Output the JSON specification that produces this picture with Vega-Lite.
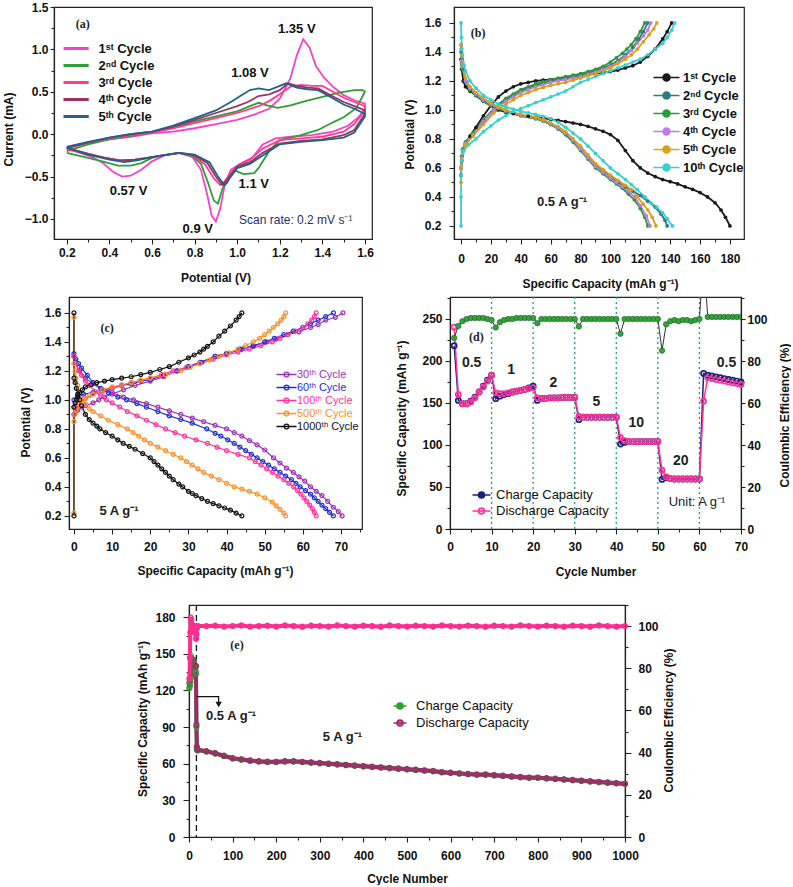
{
"$schema": "https://vega.github.io/schema/vega-lite/v6.json",
"background": "white",
"padding": {"left": 0, "top": 0, "right": 0, "bottom": 0},
"spacing": 4,
"resolve": {"scale": {"color": "independent"}, "legend": {"color": "independent"}},
"config": {
 "font": "Liberation Sans",
 "view": {"stroke": "#222222", "strokeWidth": 1.2},
 "axis": {"grid": false, "domainColor": "#222222", "domainWidth": 1.2, "tickColor": "#222222", "tickWidth": 1.1, "labelFontSize": 12, "labelFontWeight": "bold", "labelColor": "#111111", "titleFontSize": 12, "titleFontWeight": "bold", "titleColor": "#111111", "labelFlush": false, "labelOverlap": false},
 "legend": {"labelColor": "#111111", "labelFont": "Liberation Sans"}
},
"datasets": {
 "cv": [
{"k":"1","p":0.2,"c":-0.15},{"k":"1","p":0.3,"c":-0.1},{"k":"1","p":0.4,"c":-0.06},{"k":"1","p":0.5,"c":-0.03},{"k":"1","p":0.6,"c":0.01},{"k":"1","p":0.7,"c":0.03},{"k":"1","p":0.8,"c":0.07},{"k":"1","p":0.9,"c":0.12},{"k":"1","p":1.0,"c":0.17},{"k":"1","p":1.08,"c":0.23},{"k":"1","p":1.15,"c":0.3},{"k":"1","p":1.2,"c":0.42},{"k":"1","p":1.25,"c":0.66},{"k":"1","p":1.28,"c":0.93},{"k":"1","p":1.31,"c":1.12},{"k":"1","p":1.34,"c":1.02},{"k":"1","p":1.37,"c":0.8},{"k":"1","p":1.41,"c":0.66},{"k":"1","p":1.45,"c":0.56},{"k":"1","p":1.5,"c":0.46},{"k":"1","p":1.55,"c":0.4},{"k":"1","p":1.6,"c":0.36},{"k":"1","p":1.6,"c":0.3},{"k":"1","p":1.57,"c":0.2},{"k":"1","p":1.52,"c":0.1},{"k":"1","p":1.45,"c":0.03},{"k":"1","p":1.35,"c":-0.01},{"k":"1","p":1.25,"c":-0.03},{"k":"1","p":1.18,"c":-0.05},{"k":"1","p":1.12,"c":-0.12},{"k":"1","p":1.07,"c":-0.28},{"k":"1","p":1.02,"c":-0.34},{"k":"1","p":0.97,"c":-0.42},{"k":"1","p":0.94,"c":-0.62},{"k":"1","p":0.92,"c":-0.88},{"k":"1","p":0.9,"c":-1.03},{"k":"1","p":0.88,"c":-0.96},{"k":"1","p":0.86,"c":-0.72},{"k":"1","p":0.83,"c":-0.42},{"k":"1","p":0.79,"c":-0.27},{"k":"1","p":0.73,"c":-0.22},{"k":"1","p":0.66,"c":-0.25},{"k":"1","p":0.6,"c":-0.32},{"k":"1","p":0.55,"c":-0.42},{"k":"1","p":0.5,"c":-0.49},{"k":"1","p":0.46,"c":-0.5},{"k":"1","p":0.42,"c":-0.45},{"k":"1","p":0.37,"c":-0.34},{"k":"1","p":0.32,"c":-0.27},{"k":"1","p":0.25,"c":-0.21},{"k":"1","p":0.2,"c":-0.16},
{"k":"2","p":0.2,"c":-0.2},{"k":"2","p":0.3,"c":-0.12},{"k":"2","p":0.4,"c":-0.06},{"k":"2","p":0.5,"c":-0.02},{"k":"2","p":0.6,"c":0.02},{"k":"2","p":0.7,"c":0.08},{"k":"2","p":0.8,"c":0.15},{"k":"2","p":0.9,"c":0.21},{"k":"2","p":1.0,"c":0.27},{"k":"2","p":1.06,"c":0.33},{"k":"2","p":1.1,"c":0.37},{"k":"2","p":1.14,"c":0.34},{"k":"2","p":1.19,"c":0.31},{"k":"2","p":1.25,"c":0.34},{"k":"2","p":1.32,"c":0.39},{"k":"2","p":1.4,"c":0.44},{"k":"2","p":1.48,"c":0.49},{"k":"2","p":1.55,"c":0.52},{"k":"2","p":1.59,"c":0.52},{"k":"2","p":1.6,"c":0.5},{"k":"2","p":1.56,"c":0.31},{"k":"2","p":1.5,"c":0.2},{"k":"2","p":1.45,"c":0.14},{"k":"2","p":1.38,"c":0.05},{"k":"2","p":1.3,"c":-0.01},{"k":"2","p":1.2,"c":-0.07},{"k":"2","p":1.15,"c":-0.2},{"k":"2","p":1.1,"c":-0.4},{"k":"2","p":1.08,"c":-0.46},{"k":"2","p":1.03,"c":-0.47},{"k":"2","p":0.99,"c":-0.43},{"k":"2","p":0.96,"c":-0.5},{"k":"2","p":0.93,"c":-0.65},{"k":"2","p":0.91,"c":-0.82},{"k":"2","p":0.89,"c":-0.78},{"k":"2","p":0.86,"c":-0.55},{"k":"2","p":0.83,"c":-0.35},{"k":"2","p":0.79,"c":-0.26},{"k":"2","p":0.72,"c":-0.22},{"k":"2","p":0.65,"c":-0.25},{"k":"2","p":0.6,"c":-0.28},{"k":"2","p":0.55,"c":-0.34},{"k":"2","p":0.5,"c":-0.37},{"k":"2","p":0.44,"c":-0.37},{"k":"2","p":0.38,"c":-0.33},{"k":"2","p":0.3,"c":-0.28},{"k":"2","p":0.2,"c":-0.22},
{"k":"3","p":0.2,"c":-0.17},{"k":"3","p":0.3,"c":-0.1},{"k":"3","p":0.4,"c":-0.05},{"k":"3","p":0.5,"c":-0.01},{"k":"3","p":0.6,"c":0.02},{"k":"3","p":0.7,"c":0.07},{"k":"3","p":0.8,"c":0.13},{"k":"3","p":0.9,"c":0.19},{"k":"3","p":1.0,"c":0.25},{"k":"3","p":1.1,"c":0.33},{"k":"3","p":1.15,"c":0.39},{"k":"3","p":1.2,"c":0.47},{"k":"3","p":1.25,"c":0.56},{"k":"3","p":1.3,"c":0.58},{"k":"3","p":1.35,"c":0.57},{"k":"3","p":1.4,"c":0.57},{"k":"3","p":1.45,"c":0.5},{"k":"3","p":1.5,"c":0.43},{"k":"3","p":1.55,"c":0.38},{"k":"3","p":1.6,"c":0.33},{"k":"3","p":1.6,"c":0.28},{"k":"3","p":1.55,"c":0.12},{"k":"3","p":1.5,"c":0.03},{"k":"3","p":1.4,"c":-0.03},{"k":"3","p":1.3,"c":-0.05},{"k":"3","p":1.2,"c":-0.07},{"k":"3","p":1.12,"c":-0.17},{"k":"3","p":1.06,"c":-0.3},{"k":"3","p":1.01,"c":-0.36},{"k":"3","p":0.97,"c":-0.45},{"k":"3","p":0.94,"c":-0.56},{"k":"3","p":0.92,"c":-0.6},{"k":"3","p":0.89,"c":-0.52},{"k":"3","p":0.85,"c":-0.36},{"k":"3","p":0.8,"c":-0.26},{"k":"3","p":0.73,"c":-0.22},{"k":"3","p":0.65,"c":-0.25},{"k":"3","p":0.6,"c":-0.27},{"k":"3","p":0.52,"c":-0.3},{"k":"3","p":0.45,"c":-0.31},{"k":"3","p":0.38,"c":-0.28},{"k":"3","p":0.3,"c":-0.24},{"k":"3","p":0.2,"c":-0.18},
{"k":"4","p":0.2,"c":-0.16},{"k":"4","p":0.3,"c":-0.1},{"k":"4","p":0.4,"c":-0.04},{"k":"4","p":0.5,"c":0.0},{"k":"4","p":0.6,"c":0.03},{"k":"4","p":0.7,"c":0.09},{"k":"4","p":0.8,"c":0.17},{"k":"4","p":0.9,"c":0.25},{"k":"4","p":1.0,"c":0.33},{"k":"4","p":1.05,"c":0.38},{"k":"4","p":1.1,"c":0.45},{"k":"4","p":1.15,"c":0.47},{"k":"4","p":1.2,"c":0.52},{"k":"4","p":1.24,"c":0.6},{"k":"4","p":1.28,"c":0.57},{"k":"4","p":1.33,"c":0.55},{"k":"4","p":1.38,"c":0.54},{"k":"4","p":1.43,"c":0.47},{"k":"4","p":1.5,"c":0.38},{"k":"4","p":1.55,"c":0.33},{"k":"4","p":1.6,"c":0.28},{"k":"4","p":1.6,"c":0.24},{"k":"4","p":1.55,"c":0.05},{"k":"4","p":1.5,"c":-0.01},{"k":"4","p":1.4,"c":-0.06},{"k":"4","p":1.3,"c":-0.08},{"k":"4","p":1.2,"c":-0.11},{"k":"4","p":1.12,"c":-0.22},{"k":"4","p":1.06,"c":-0.33},{"k":"4","p":1.0,"c":-0.38},{"k":"4","p":0.97,"c":-0.48},{"k":"4","p":0.94,"c":-0.58},{"k":"4","p":0.93,"c":-0.6},{"k":"4","p":0.9,"c":-0.5},{"k":"4","p":0.86,"c":-0.34},{"k":"4","p":0.8,"c":-0.25},{"k":"4","p":0.73,"c":-0.22},{"k":"4","p":0.65,"c":-0.25},{"k":"4","p":0.6,"c":-0.27},{"k":"4","p":0.52,"c":-0.3},{"k":"4","p":0.45,"c":-0.31},{"k":"4","p":0.38,"c":-0.28},{"k":"4","p":0.3,"c":-0.23},{"k":"4","p":0.2,"c":-0.16},
{"k":"5","p":0.2,"c":-0.15},{"k":"5","p":0.3,"c":-0.09},{"k":"5","p":0.4,"c":-0.04},{"k":"5","p":0.5,"c":0.0},{"k":"5","p":0.6,"c":0.03},{"k":"5","p":0.7,"c":0.1},{"k":"5","p":0.8,"c":0.19},{"k":"5","p":0.9,"c":0.28},{"k":"5","p":0.97,"c":0.38},{"k":"5","p":1.02,"c":0.46},{"k":"5","p":1.06,"c":0.52},{"k":"5","p":1.1,"c":0.54},{"k":"5","p":1.15,"c":0.52},{"k":"5","p":1.2,"c":0.57},{"k":"5","p":1.23,"c":0.6},{"k":"5","p":1.28,"c":0.55},{"k":"5","p":1.33,"c":0.53},{"k":"5","p":1.38,"c":0.52},{"k":"5","p":1.43,"c":0.45},{"k":"5","p":1.5,"c":0.35},{"k":"5","p":1.55,"c":0.3},{"k":"5","p":1.6,"c":0.24},{"k":"5","p":1.6,"c":0.21},{"k":"5","p":1.55,"c":0.02},{"k":"5","p":1.5,"c":-0.04},{"k":"5","p":1.4,"c":-0.07},{"k":"5","p":1.3,"c":-0.09},{"k":"5","p":1.2,"c":-0.12},{"k":"5","p":1.12,"c":-0.25},{"k":"5","p":1.06,"c":-0.35},{"k":"5","p":1.0,"c":-0.4},{"k":"5","p":0.97,"c":-0.5},{"k":"5","p":0.95,"c":-0.58},{"k":"5","p":0.94,"c":-0.6},{"k":"5","p":0.91,"c":-0.5},{"k":"5","p":0.87,"c":-0.33},{"k":"5","p":0.8,"c":-0.24},{"k":"5","p":0.73,"c":-0.22},{"k":"5","p":0.65,"c":-0.25},{"k":"5","p":0.6,"c":-0.27},{"k":"5","p":0.53,"c":-0.31},{"k":"5","p":0.47,"c":-0.33},{"k":"5","p":0.4,"c":-0.3},{"k":"5","p":0.3,"c":-0.24},{"k":"5","p":0.2,"c":-0.16}
 ],
 "gcd": [
{"k":"1","s":"d","q":0,"v":1.35},{"k":"1","s":"d","q":0.5,"v":1.28},{"k":"1","s":"d","q":1.5,"v":1.2},{"k":"1","s":"d","q":3,"v":1.16},{"k":"1","s":"d","q":6,"v":1.13},{"k":"1","s":"d","q":10,"v":1.1},{"k":"1","s":"d","q":15,"v":1.06},{"k":"1","s":"d","q":20,"v":1.03},{"k":"1","s":"d","q":25,"v":1.0},{"k":"1","s":"d","q":30,"v":0.985},{"k":"1","s":"d","q":35,"v":0.975},{"k":"1","s":"d","q":40,"v":0.965},{"k":"1","s":"d","q":45,"v":0.958},{"k":"1","s":"d","q":50,"v":0.95},{"k":"1","s":"d","q":55,"v":0.943},{"k":"1","s":"d","q":60,"v":0.935},{"k":"1","s":"d","q":65,"v":0.928},{"k":"1","s":"d","q":70,"v":0.92},{"k":"1","s":"d","q":75,"v":0.91},{"k":"1","s":"d","q":80,"v":0.9},{"k":"1","s":"d","q":85,"v":0.887},{"k":"1","s":"d","q":90,"v":0.87},{"k":"1","s":"d","q":95,"v":0.853},{"k":"1","s":"d","q":100,"v":0.83},{"k":"1","s":"d","q":105,"v":0.79},{"k":"1","s":"d","q":110,"v":0.72},{"k":"1","s":"d","q":115,"v":0.65},{"k":"1","s":"d","q":120,"v":0.6},{"k":"1","s":"d","q":125,"v":0.565},{"k":"1","s":"d","q":130,"v":0.54},{"k":"1","s":"d","q":135,"v":0.52},{"k":"1","s":"d","q":140,"v":0.505},{"k":"1","s":"d","q":145,"v":0.49},{"k":"1","s":"d","q":150,"v":0.47},{"k":"1","s":"d","q":155,"v":0.452},{"k":"1","s":"d","q":160,"v":0.43},{"k":"1","s":"d","q":165,"v":0.4},{"k":"1","s":"d","q":170,"v":0.36},{"k":"1","s":"d","q":174,"v":0.31},{"k":"1","s":"d","q":177,"v":0.26},{"k":"1","s":"d","q":180,"v":0.2},
{"k":"1","s":"c","q":0,"v":0.55},{"k":"1","s":"c","q":0.5,"v":0.65},{"k":"1","s":"c","q":1.5,"v":0.72},{"k":"1","s":"c","q":3,"v":0.77},{"k":"1","s":"c","q":6,"v":0.82},{"k":"1","s":"c","q":10,"v":0.88},{"k":"1","s":"c","q":15,"v":0.96},{"k":"1","s":"c","q":20,"v":1.03},{"k":"1","s":"c","q":25,"v":1.09},{"k":"1","s":"c","q":30,"v":1.13},{"k":"1","s":"c","q":35,"v":1.16},{"k":"1","s":"c","q":40,"v":1.18},{"k":"1","s":"c","q":45,"v":1.19},{"k":"1","s":"c","q":50,"v":1.2},{"k":"1","s":"c","q":55,"v":1.205},{"k":"1","s":"c","q":60,"v":1.21},{"k":"1","s":"c","q":65,"v":1.215},{"k":"1","s":"c","q":70,"v":1.22},{"k":"1","s":"c","q":75,"v":1.228},{"k":"1","s":"c","q":80,"v":1.235},{"k":"1","s":"c","q":85,"v":1.243},{"k":"1","s":"c","q":90,"v":1.25},{"k":"1","s":"c","q":95,"v":1.257},{"k":"1","s":"c","q":100,"v":1.265},{"k":"1","s":"c","q":105,"v":1.275},{"k":"1","s":"c","q":110,"v":1.29},{"k":"1","s":"c","q":115,"v":1.305},{"k":"1","s":"c","q":120,"v":1.33},{"k":"1","s":"c","q":125,"v":1.37},{"k":"1","s":"c","q":130,"v":1.42},{"k":"1","s":"c","q":135,"v":1.49},{"k":"1","s":"c","q":138,"v":1.54},{"k":"1","s":"c","q":141,"v":1.6},
{"k":"2","s":"d","q":0,"v":1.45},{"k":"2","s":"d","q":0.5,"v":1.35},{"k":"2","s":"d","q":1,"v":1.3},{"k":"2","s":"d","q":3,"v":1.2},{"k":"2","s":"d","q":6,"v":1.14},{"k":"2","s":"d","q":10,"v":1.1},{"k":"2","s":"d","q":15,"v":1.06},{"k":"2","s":"d","q":20,"v":1.03},{"k":"2","s":"d","q":25,"v":1.01},{"k":"2","s":"d","q":30,"v":0.99},{"k":"2","s":"d","q":40,"v":0.96},{"k":"2","s":"d","q":50,"v":0.94},{"k":"2","s":"d","q":55,"v":0.925},{"k":"2","s":"d","q":60,"v":0.9},{"k":"2","s":"d","q":65,"v":0.87},{"k":"2","s":"d","q":70,"v":0.83},{"k":"2","s":"d","q":75,"v":0.78},{"k":"2","s":"d","q":80,"v":0.73},{"k":"2","s":"d","q":85,"v":0.67},{"k":"2","s":"d","q":90,"v":0.62},{"k":"2","s":"d","q":95,"v":0.58},{"k":"2","s":"d","q":100,"v":0.54},{"k":"2","s":"d","q":105,"v":0.5},{"k":"2","s":"d","q":110,"v":0.47},{"k":"2","s":"d","q":115,"v":0.44},{"k":"2","s":"d","q":120,"v":0.41},{"k":"2","s":"d","q":125,"v":0.37},{"k":"2","s":"d","q":130,"v":0.33},{"k":"2","s":"d","q":134,"v":0.28},{"k":"2","s":"d","q":136.5,"v":0.24},{"k":"2","s":"d","q":138,"v":0.2},
{"k":"2","s":"c","q":0,"v":0.6},{"k":"2","s":"c","q":0.5,"v":0.68},{"k":"2","s":"c","q":1,"v":0.72},{"k":"2","s":"c","q":3,"v":0.77},{"k":"2","s":"c","q":8,"v":0.83},{"k":"2","s":"c","q":15,"v":0.92},{"k":"2","s":"c","q":22,"v":1.0},{"k":"2","s":"c","q":30,"v":1.07},{"k":"2","s":"c","q":35,"v":1.1},{"k":"2","s":"c","q":40,"v":1.13},{"k":"2","s":"c","q":45,"v":1.15},{"k":"2","s":"c","q":50,"v":1.17},{"k":"2","s":"c","q":55,"v":1.185},{"k":"2","s":"c","q":60,"v":1.2},{"k":"2","s":"c","q":65,"v":1.21},{"k":"2","s":"c","q":70,"v":1.22},{"k":"2","s":"c","q":75,"v":1.23},{"k":"2","s":"c","q":80,"v":1.24},{"k":"2","s":"c","q":85,"v":1.255},{"k":"2","s":"c","q":90,"v":1.27},{"k":"2","s":"c","q":95,"v":1.29},{"k":"2","s":"c","q":100,"v":1.31},{"k":"2","s":"c","q":105,"v":1.34},{"k":"2","s":"c","q":110,"v":1.38},{"k":"2","s":"c","q":115,"v":1.43},{"k":"2","s":"c","q":119,"v":1.49},{"k":"2","s":"c","q":122,"v":1.54},{"k":"2","s":"c","q":125,"v":1.6},
{"k":"3","s":"d","q":0,"v":1.4},{"k":"3","s":"d","q":0.5,"v":1.32},{"k":"3","s":"d","q":1,"v":1.28},{"k":"3","s":"d","q":3,"v":1.2},{"k":"3","s":"d","q":6,"v":1.14},{"k":"3","s":"d","q":10,"v":1.1},{"k":"3","s":"d","q":15,"v":1.06},{"k":"3","s":"d","q":20,"v":1.03},{"k":"3","s":"d","q":25,"v":1.01},{"k":"3","s":"d","q":30,"v":0.99},{"k":"3","s":"d","q":40,"v":0.96},{"k":"3","s":"d","q":50,"v":0.94},{"k":"3","s":"d","q":55,"v":0.925},{"k":"3","s":"d","q":60,"v":0.9},{"k":"3","s":"d","q":65,"v":0.87},{"k":"3","s":"d","q":70,"v":0.83},{"k":"3","s":"d","q":75,"v":0.78},{"k":"3","s":"d","q":80,"v":0.72},{"k":"3","s":"d","q":85,"v":0.66},{"k":"3","s":"d","q":90,"v":0.6},{"k":"3","s":"d","q":95,"v":0.56},{"k":"3","s":"d","q":100,"v":0.52},{"k":"3","s":"d","q":104,"v":0.49},{"k":"3","s":"d","q":108,"v":0.46},{"k":"3","s":"d","q":112,"v":0.42},{"k":"3","s":"d","q":116,"v":0.38},{"k":"3","s":"d","q":120,"v":0.32},{"k":"3","s":"d","q":123,"v":0.26},{"k":"3","s":"d","q":125,"v":0.2},
{"k":"3","s":"c","q":0,"v":0.6},{"k":"3","s":"c","q":0.5,"v":0.68},{"k":"3","s":"c","q":1,"v":0.73},{"k":"3","s":"c","q":3,"v":0.78},{"k":"3","s":"c","q":8,"v":0.84},{"k":"3","s":"c","q":15,"v":0.93},{"k":"3","s":"c","q":22,"v":1.01},{"k":"3","s":"c","q":30,"v":1.08},{"k":"3","s":"c","q":35,"v":1.11},{"k":"3","s":"c","q":40,"v":1.14},{"k":"3","s":"c","q":45,"v":1.16},{"k":"3","s":"c","q":50,"v":1.18},{"k":"3","s":"c","q":55,"v":1.195},{"k":"3","s":"c","q":60,"v":1.21},{"k":"3","s":"c","q":65,"v":1.22},{"k":"3","s":"c","q":70,"v":1.23},{"k":"3","s":"c","q":75,"v":1.24},{"k":"3","s":"c","q":80,"v":1.25},{"k":"3","s":"c","q":85,"v":1.265},{"k":"3","s":"c","q":90,"v":1.28},{"k":"3","s":"c","q":95,"v":1.3},{"k":"3","s":"c","q":100,"v":1.33},{"k":"3","s":"c","q":104,"v":1.36},{"k":"3","s":"c","q":108,"v":1.39},{"k":"3","s":"c","q":111,"v":1.42},{"k":"3","s":"c","q":114,"v":1.45},{"k":"3","s":"c","q":117,"v":1.49},{"k":"3","s":"c","q":120,"v":1.54},{"k":"3","s":"c","q":123,"v":1.6},
{"k":"4","s":"d","q":0,"v":1.42},{"k":"4","s":"d","q":0.5,"v":1.34},{"k":"4","s":"d","q":1,"v":1.3},{"k":"4","s":"d","q":3,"v":1.2},{"k":"4","s":"d","q":6,"v":1.15},{"k":"4","s":"d","q":10,"v":1.11},{"k":"4","s":"d","q":15,"v":1.07},{"k":"4","s":"d","q":20,"v":1.04},{"k":"4","s":"d","q":25,"v":1.015},{"k":"4","s":"d","q":30,"v":0.995},{"k":"4","s":"d","q":40,"v":0.965},{"k":"4","s":"d","q":50,"v":0.945},{"k":"4","s":"d","q":55,"v":0.93},{"k":"4","s":"d","q":60,"v":0.905},{"k":"4","s":"d","q":65,"v":0.875},{"k":"4","s":"d","q":70,"v":0.84},{"k":"4","s":"d","q":75,"v":0.79},{"k":"4","s":"d","q":80,"v":0.73},{"k":"4","s":"d","q":85,"v":0.67},{"k":"4","s":"d","q":90,"v":0.61},{"k":"4","s":"d","q":95,"v":0.57},{"k":"4","s":"d","q":100,"v":0.53},{"k":"4","s":"d","q":104,"v":0.5},{"k":"4","s":"d","q":108,"v":0.47},{"k":"4","s":"d","q":112,"v":0.44},{"k":"4","s":"d","q":116,"v":0.4},{"k":"4","s":"d","q":120,"v":0.34},{"k":"4","s":"d","q":124,"v":0.27},{"k":"4","s":"d","q":126.5,"v":0.2},
{"k":"4","s":"c","q":0,"v":0.6},{"k":"4","s":"c","q":0.5,"v":0.67},{"k":"4","s":"c","q":1,"v":0.72},{"k":"4","s":"c","q":3,"v":0.77},{"k":"4","s":"c","q":8,"v":0.83},{"k":"4","s":"c","q":15,"v":0.92},{"k":"4","s":"c","q":22,"v":1.0},{"k":"4","s":"c","q":30,"v":1.06},{"k":"4","s":"c","q":35,"v":1.09},{"k":"4","s":"c","q":40,"v":1.12},{"k":"4","s":"c","q":45,"v":1.14},{"k":"4","s":"c","q":50,"v":1.16},{"k":"4","s":"c","q":55,"v":1.175},{"k":"4","s":"c","q":60,"v":1.19},{"k":"4","s":"c","q":65,"v":1.2},{"k":"4","s":"c","q":70,"v":1.21},{"k":"4","s":"c","q":75,"v":1.22},{"k":"4","s":"c","q":80,"v":1.23},{"k":"4","s":"c","q":85,"v":1.245},{"k":"4","s":"c","q":90,"v":1.26},{"k":"4","s":"c","q":95,"v":1.28},{"k":"4","s":"c","q":100,"v":1.3},{"k":"4","s":"c","q":105,"v":1.33},{"k":"4","s":"c","q":110,"v":1.37},{"k":"4","s":"c","q":114,"v":1.41},{"k":"4","s":"c","q":118,"v":1.46},{"k":"4","s":"c","q":122,"v":1.51},{"k":"4","s":"c","q":125,"v":1.55},{"k":"4","s":"c","q":127,"v":1.6},
{"k":"5","s":"d","q":0,"v":1.45},{"k":"5","s":"d","q":0.5,"v":1.37},{"k":"5","s":"d","q":1,"v":1.32},{"k":"5","s":"d","q":3,"v":1.22},{"k":"5","s":"d","q":6,"v":1.16},{"k":"5","s":"d","q":10,"v":1.12},{"k":"5","s":"d","q":15,"v":1.08},{"k":"5","s":"d","q":20,"v":1.05},{"k":"5","s":"d","q":25,"v":1.02},{"k":"5","s":"d","q":30,"v":1.0},{"k":"5","s":"d","q":40,"v":0.97},{"k":"5","s":"d","q":50,"v":0.95},{"k":"5","s":"d","q":55,"v":0.935},{"k":"5","s":"d","q":60,"v":0.91},{"k":"5","s":"d","q":65,"v":0.885},{"k":"5","s":"d","q":70,"v":0.85},{"k":"5","s":"d","q":75,"v":0.8},{"k":"5","s":"d","q":80,"v":0.75},{"k":"5","s":"d","q":85,"v":0.69},{"k":"5","s":"d","q":90,"v":0.63},{"k":"5","s":"d","q":95,"v":0.59},{"k":"5","s":"d","q":100,"v":0.55},{"k":"5","s":"d","q":105,"v":0.515},{"k":"5","s":"d","q":110,"v":0.48},{"k":"5","s":"d","q":114,"v":0.45},{"k":"5","s":"d","q":118,"v":0.4},{"k":"5","s":"d","q":122,"v":0.35},{"k":"5","s":"d","q":125,"v":0.31},{"k":"5","s":"d","q":128,"v":0.26},{"k":"5","s":"d","q":130.5,"v":0.2},
{"k":"5","s":"c","q":0,"v":0.5},{"k":"5","s":"c","q":0,"v":0.6},{"k":"5","s":"c","q":0.5,"v":0.66},{"k":"5","s":"c","q":1,"v":0.7},{"k":"5","s":"c","q":3,"v":0.76},{"k":"5","s":"c","q":8,"v":0.82},{"k":"5","s":"c","q":15,"v":0.9},{"k":"5","s":"c","q":22,"v":0.98},{"k":"5","s":"c","q":30,"v":1.04},{"k":"5","s":"c","q":35,"v":1.07},{"k":"5","s":"c","q":40,"v":1.1},{"k":"5","s":"c","q":45,"v":1.12},{"k":"5","s":"c","q":50,"v":1.14},{"k":"5","s":"c","q":55,"v":1.155},{"k":"5","s":"c","q":60,"v":1.17},{"k":"5","s":"c","q":65,"v":1.18},{"k":"5","s":"c","q":70,"v":1.19},{"k":"5","s":"c","q":75,"v":1.205},{"k":"5","s":"c","q":80,"v":1.22},{"k":"5","s":"c","q":85,"v":1.235},{"k":"5","s":"c","q":90,"v":1.25},{"k":"5","s":"c","q":95,"v":1.27},{"k":"5","s":"c","q":100,"v":1.29},{"k":"5","s":"c","q":105,"v":1.32},{"k":"5","s":"c","q":110,"v":1.35},{"k":"5","s":"c","q":114,"v":1.38},{"k":"5","s":"c","q":118,"v":1.42},{"k":"5","s":"c","q":122,"v":1.47},{"k":"5","s":"c","q":126,"v":1.52},{"k":"5","s":"c","q":129,"v":1.56},{"k":"5","s":"c","q":131,"v":1.6},
{"k":"10","s":"d","q":0,"v":1.6},{"k":"10","s":"d","q":0.2,"v":1.5},{"k":"10","s":"d","q":0.6,"v":1.42},{"k":"10","s":"d","q":1,"v":1.38},{"k":"10","s":"d","q":2,"v":1.31},{"k":"10","s":"d","q":3,"v":1.27},{"k":"10","s":"d","q":6,"v":1.2},{"k":"10","s":"d","q":10,"v":1.15},{"k":"10","s":"d","q":15,"v":1.1},{"k":"10","s":"d","q":20,"v":1.07},{"k":"10","s":"d","q":25,"v":1.04},{"k":"10","s":"d","q":30,"v":1.02},{"k":"10","s":"d","q":35,"v":1.005},{"k":"10","s":"d","q":40,"v":0.99},{"k":"10","s":"d","q":45,"v":0.98},{"k":"10","s":"d","q":50,"v":0.97},{"k":"10","s":"d","q":55,"v":0.955},{"k":"10","s":"d","q":60,"v":0.94},{"k":"10","s":"d","q":65,"v":0.915},{"k":"10","s":"d","q":70,"v":0.88},{"k":"10","s":"d","q":75,"v":0.84},{"k":"10","s":"d","q":80,"v":0.8},{"k":"10","s":"d","q":85,"v":0.75},{"k":"10","s":"d","q":90,"v":0.7},{"k":"10","s":"d","q":95,"v":0.65},{"k":"10","s":"d","q":100,"v":0.6},{"k":"10","s":"d","q":105,"v":0.56},{"k":"10","s":"d","q":110,"v":0.52},{"k":"10","s":"d","q":114,"v":0.485},{"k":"10","s":"d","q":118,"v":0.45},{"k":"10","s":"d","q":123,"v":0.4},{"k":"10","s":"d","q":127,"v":0.36},{"k":"10","s":"d","q":131,"v":0.33},{"k":"10","s":"d","q":135,"v":0.29},{"k":"10","s":"d","q":138,"v":0.25},{"k":"10","s":"d","q":141.5,"v":0.2},
{"k":"10","s":"c","q":0,"v":0.2},{"k":"10","s":"c","q":0,"v":0.4},{"k":"10","s":"c","q":0,"v":0.55},{"k":"10","s":"c","q":0.5,"v":0.65},{"k":"10","s":"c","q":1,"v":0.7},{"k":"10","s":"c","q":2,"v":0.72},{"k":"10","s":"c","q":5,"v":0.76},{"k":"10","s":"c","q":10,"v":0.8},{"k":"10","s":"c","q":15,"v":0.85},{"k":"10","s":"c","q":20,"v":0.89},{"k":"10","s":"c","q":25,"v":0.93},{"k":"10","s":"c","q":30,"v":0.96},{"k":"10","s":"c","q":35,"v":0.99},{"k":"10","s":"c","q":40,"v":1.01},{"k":"10","s":"c","q":45,"v":1.03},{"k":"10","s":"c","q":50,"v":1.05},{"k":"10","s":"c","q":55,"v":1.07},{"k":"10","s":"c","q":60,"v":1.09},{"k":"10","s":"c","q":65,"v":1.11},{"k":"10","s":"c","q":70,"v":1.13},{"k":"10","s":"c","q":75,"v":1.16},{"k":"10","s":"c","q":80,"v":1.19},{"k":"10","s":"c","q":85,"v":1.21},{"k":"10","s":"c","q":90,"v":1.23},{"k":"10","s":"c","q":95,"v":1.25},{"k":"10","s":"c","q":100,"v":1.27},{"k":"10","s":"c","q":105,"v":1.29},{"k":"10","s":"c","q":110,"v":1.31},{"k":"10","s":"c","q":115,"v":1.33},{"k":"10","s":"c","q":120,"v":1.35},{"k":"10","s":"c","q":125,"v":1.38},{"k":"10","s":"c","q":130,"v":1.42},{"k":"10","s":"c","q":135,"v":1.46},{"k":"10","s":"c","q":138,"v":1.5},{"k":"10","s":"c","q":141,"v":1.55},{"k":"10","s":"c","q":143,"v":1.6}
 ],
 "rate": [
{"k":"30","s":"d","q":0,"v":1.3},{"k":"30","s":"d","q":0.5,"v":1.25},{"k":"30","s":"d","q":1.5,"v":1.2},{"k":"30","s":"d","q":3,"v":1.15},{"k":"30","s":"d","q":5,"v":1.11},{"k":"30","s":"d","q":7.5,"v":1.07},{"k":"30","s":"d","q":10,"v":1.05},{"k":"30","s":"d","q":13,"v":1.02},{"k":"30","s":"d","q":15.6,"v":1.0},{"k":"30","s":"d","q":19,"v":0.975},{"k":"30","s":"d","q":22,"v":0.95},{"k":"30","s":"d","q":25,"v":0.925},{"k":"30","s":"d","q":28,"v":0.9},{"k":"30","s":"d","q":31,"v":0.875},{"k":"30","s":"d","q":34,"v":0.85},{"k":"30","s":"d","q":37,"v":0.825},{"k":"30","s":"d","q":40,"v":0.8},{"k":"30","s":"d","q":42,"v":0.775},{"k":"30","s":"d","q":44,"v":0.75},{"k":"30","s":"d","q":46,"v":0.72},{"k":"30","s":"d","q":48,"v":0.69},{"k":"30","s":"d","q":50,"v":0.655},{"k":"30","s":"d","q":52.3,"v":0.6},{"k":"30","s":"d","q":54,"v":0.565},{"k":"30","s":"d","q":55.7,"v":0.53},{"k":"30","s":"d","q":57.5,"v":0.5},{"k":"30","s":"d","q":59,"v":0.47},{"k":"30","s":"d","q":60.5,"v":0.44},{"k":"30","s":"d","q":62,"v":0.4},{"k":"30","s":"d","q":63.5,"v":0.37},{"k":"30","s":"d","q":65,"v":0.34},{"k":"30","s":"d","q":66.5,"v":0.3},{"k":"30","s":"d","q":68,"v":0.26},{"k":"30","s":"d","q":69.3,"v":0.23},{"k":"30","s":"d","q":70.3,"v":0.2},
{"k":"30","s":"c","q":0,"v":0.9},{"k":"30","s":"c","q":0.5,"v":0.92},{"k":"30","s":"c","q":1,"v":0.93},{"k":"30","s":"c","q":2,"v":0.95},{"k":"30","s":"c","q":3,"v":0.96},{"k":"30","s":"c","q":5,"v":0.98},{"k":"30","s":"c","q":6.5,"v":1.0},{"k":"30","s":"c","q":8,"v":1.02},{"k":"30","s":"c","q":10,"v":1.04},{"k":"30","s":"c","q":13,"v":1.07},{"k":"30","s":"c","q":16,"v":1.1},{"k":"30","s":"c","q":20,"v":1.13},{"k":"30","s":"c","q":23.5,"v":1.16},{"k":"30","s":"c","q":27,"v":1.2},{"k":"30","s":"c","q":30,"v":1.23},{"k":"30","s":"c","q":33,"v":1.26},{"k":"30","s":"c","q":37,"v":1.3},{"k":"30","s":"c","q":40,"v":1.32},{"k":"30","s":"c","q":44,"v":1.35},{"k":"30","s":"c","q":47,"v":1.37},{"k":"30","s":"c","q":50.5,"v":1.4},{"k":"30","s":"c","q":53,"v":1.42},{"k":"30","s":"c","q":56,"v":1.45},{"k":"30","s":"c","q":59,"v":1.47},{"k":"30","s":"c","q":62,"v":1.5},{"k":"30","s":"c","q":64,"v":1.52},{"k":"30","s":"c","q":66,"v":1.55},{"k":"30","s":"c","q":68.5,"v":1.57},{"k":"30","s":"c","q":70.5,"v":1.6},
{"k":"60","s":"d","q":0,"v":1.32},{"k":"60","s":"d","q":0.5,"v":1.28},{"k":"60","s":"d","q":1.2,"v":1.25},{"k":"60","s":"d","q":2,"v":1.22},{"k":"60","s":"d","q":3.5,"v":1.17},{"k":"60","s":"d","q":5,"v":1.12},{"k":"60","s":"d","q":7,"v":1.08},{"k":"60","s":"d","q":9,"v":1.05},{"k":"60","s":"d","q":11.5,"v":1.02},{"k":"60","s":"d","q":13.8,"v":1.0},{"k":"60","s":"d","q":16.5,"v":0.975},{"k":"60","s":"d","q":19,"v":0.95},{"k":"60","s":"d","q":22,"v":0.92},{"k":"60","s":"d","q":25,"v":0.89},{"k":"60","s":"d","q":28,"v":0.865},{"k":"60","s":"d","q":31,"v":0.84},{"k":"60","s":"d","q":34.8,"v":0.8},{"k":"60","s":"d","q":37,"v":0.77},{"k":"60","s":"d","q":38.5,"v":0.75},{"k":"60","s":"d","q":40.3,"v":0.725},{"k":"60","s":"d","q":42,"v":0.7},{"k":"60","s":"d","q":43.5,"v":0.675},{"k":"60","s":"d","q":45,"v":0.65},{"k":"60","s":"d","q":46.5,"v":0.625},{"k":"60","s":"d","q":48,"v":0.6},{"k":"60","s":"d","q":49.5,"v":0.575},{"k":"60","s":"d","q":51,"v":0.55},{"k":"60","s":"d","q":52.5,"v":0.525},{"k":"60","s":"d","q":54,"v":0.5},{"k":"60","s":"d","q":55.5,"v":0.475},{"k":"60","s":"d","q":57,"v":0.45},{"k":"60","s":"d","q":58.2,"v":0.425},{"k":"60","s":"d","q":59.3,"v":0.4},{"k":"60","s":"d","q":60.7,"v":0.375},{"k":"60","s":"d","q":62,"v":0.35},{"k":"60","s":"d","q":63,"v":0.325},{"k":"60","s":"d","q":64,"v":0.3},{"k":"60","s":"d","q":65,"v":0.275},{"k":"60","s":"d","q":66,"v":0.25},{"k":"60","s":"d","q":67,"v":0.225},{"k":"60","s":"d","q":68,"v":0.2},
{"k":"60","s":"c","q":0,"v":1.0},{"k":"60","s":"c","q":1,"v":1.02},{"k":"60","s":"c","q":2.5,"v":1.04},{"k":"60","s":"c","q":5,"v":1.05},{"k":"60","s":"c","q":7.5,"v":1.07},{"k":"60","s":"c","q":10,"v":1.08},{"k":"60","s":"c","q":12.5,"v":1.1},{"k":"60","s":"c","q":15,"v":1.11},{"k":"60","s":"c","q":17.5,"v":1.13},{"k":"60","s":"c","q":20,"v":1.14},{"k":"60","s":"c","q":23.5,"v":1.17},{"k":"60","s":"c","q":27,"v":1.2},{"k":"60","s":"c","q":30,"v":1.23},{"k":"60","s":"c","q":33.5,"v":1.26},{"k":"60","s":"c","q":37,"v":1.3},{"k":"60","s":"c","q":40,"v":1.32},{"k":"60","s":"c","q":43.5,"v":1.35},{"k":"60","s":"c","q":47,"v":1.375},{"k":"60","s":"c","q":50,"v":1.4},{"k":"60","s":"c","q":52.5,"v":1.425},{"k":"60","s":"c","q":55,"v":1.45},{"k":"60","s":"c","q":57.5,"v":1.475},{"k":"60","s":"c","q":60,"v":1.5},{"k":"60","s":"c","q":62,"v":1.525},{"k":"60","s":"c","q":64,"v":1.55},{"k":"60","s":"c","q":66,"v":1.575},{"k":"60","s":"c","q":68,"v":1.6},
{"k":"100","s":"d","q":0,"v":1.3},{"k":"100","s":"d","q":0.5,"v":1.25},{"k":"100","s":"d","q":1.2,"v":1.2},{"k":"100","s":"d","q":2,"v":1.17},{"k":"100","s":"d","q":3,"v":1.13},{"k":"100","s":"d","q":4,"v":1.1},{"k":"100","s":"d","q":5.5,"v":1.06},{"k":"100","s":"d","q":7,"v":1.03},{"k":"100","s":"d","q":8.5,"v":1.0},{"k":"100","s":"d","q":10,"v":0.98},{"k":"100","s":"d","q":12,"v":0.95},{"k":"100","s":"d","q":14,"v":0.92},{"k":"100","s":"d","q":16.5,"v":0.89},{"k":"100","s":"d","q":19,"v":0.86},{"k":"100","s":"d","q":21.5,"v":0.83},{"k":"100","s":"d","q":24,"v":0.8},{"k":"100","s":"d","q":26.5,"v":0.775},{"k":"100","s":"d","q":29,"v":0.75},{"k":"100","s":"d","q":32,"v":0.725},{"k":"100","s":"d","q":35,"v":0.7},{"k":"100","s":"d","q":37.5,"v":0.675},{"k":"100","s":"d","q":40,"v":0.65},{"k":"100","s":"d","q":43,"v":0.625},{"k":"100","s":"d","q":46,"v":0.6},{"k":"100","s":"d","q":47.5,"v":0.575},{"k":"100","s":"d","q":49,"v":0.55},{"k":"100","s":"d","q":50.5,"v":0.525},{"k":"100","s":"d","q":52,"v":0.5},{"k":"100","s":"d","q":53.5,"v":0.475},{"k":"100","s":"d","q":55,"v":0.45},{"k":"100","s":"d","q":56.3,"v":0.425},{"k":"100","s":"d","q":57.6,"v":0.4},{"k":"100","s":"d","q":58.6,"v":0.375},{"k":"100","s":"d","q":59.5,"v":0.35},{"k":"100","s":"d","q":60.3,"v":0.325},{"k":"100","s":"d","q":61,"v":0.3},{"k":"100","s":"d","q":61.8,"v":0.275},{"k":"100","s":"d","q":62.5,"v":0.25},{"k":"100","s":"d","q":63,"v":0.225},{"k":"100","s":"d","q":63.5,"v":0.2},
{"k":"100","s":"c","q":0,"v":0.95},{"k":"100","s":"c","q":0.5,"v":0.96},{"k":"100","s":"c","q":1,"v":0.98},{"k":"100","s":"c","q":2,"v":1.0},{"k":"100","s":"c","q":3,"v":1.01},{"k":"100","s":"c","q":5,"v":1.04},{"k":"100","s":"c","q":7.5,"v":1.06},{"k":"100","s":"c","q":10,"v":1.08},{"k":"100","s":"c","q":12.5,"v":1.1},{"k":"100","s":"c","q":15,"v":1.12},{"k":"100","s":"c","q":17.5,"v":1.135},{"k":"100","s":"c","q":20,"v":1.15},{"k":"100","s":"c","q":23,"v":1.175},{"k":"100","s":"c","q":26,"v":1.2},{"k":"100","s":"c","q":29.5,"v":1.225},{"k":"100","s":"c","q":33,"v":1.25},{"k":"100","s":"c","q":36.5,"v":1.28},{"k":"100","s":"c","q":40,"v":1.31},{"k":"100","s":"c","q":43,"v":1.33},{"k":"100","s":"c","q":46,"v":1.35},{"k":"100","s":"c","q":49,"v":1.375},{"k":"100","s":"c","q":52,"v":1.4},{"k":"100","s":"c","q":54,"v":1.425},{"k":"100","s":"c","q":56,"v":1.45},{"k":"100","s":"c","q":58,"v":1.475},{"k":"100","s":"c","q":60,"v":1.5},{"k":"100","s":"c","q":61.3,"v":1.525},{"k":"100","s":"c","q":62.3,"v":1.55},{"k":"100","s":"c","q":63,"v":1.575},{"k":"100","s":"c","q":63.5,"v":1.6},
{"k":"500","s":"d","q":0,"v":1.57},{"k":"500","s":"d","q":0,"v":1.25},{"k":"500","s":"d","q":0.3,"v":1.2},{"k":"500","s":"d","q":0.5,"v":1.15},{"k":"500","s":"d","q":1,"v":1.1},{"k":"500","s":"d","q":1.5,"v":1.05},{"k":"500","s":"d","q":2.2,"v":1.0},{"k":"500","s":"d","q":3,"v":0.97},{"k":"500","s":"d","q":4,"v":0.94},{"k":"500","s":"d","q":5,"v":0.92},{"k":"500","s":"d","q":7,"v":0.89},{"k":"500","s":"d","q":9,"v":0.86},{"k":"500","s":"d","q":11.5,"v":0.83},{"k":"500","s":"d","q":14,"v":0.8},{"k":"500","s":"d","q":15.5,"v":0.775},{"k":"500","s":"d","q":17,"v":0.75},{"k":"500","s":"d","q":18.5,"v":0.725},{"k":"500","s":"d","q":20,"v":0.7},{"k":"500","s":"d","q":22,"v":0.675},{"k":"500","s":"d","q":24,"v":0.65},{"k":"500","s":"d","q":26,"v":0.625},{"k":"500","s":"d","q":28,"v":0.6},{"k":"500","s":"d","q":29.5,"v":0.575},{"k":"500","s":"d","q":31,"v":0.55},{"k":"500","s":"d","q":32.5,"v":0.525},{"k":"500","s":"d","q":34,"v":0.5},{"k":"500","s":"d","q":36,"v":0.475},{"k":"500","s":"d","q":38,"v":0.45},{"k":"500","s":"d","q":40,"v":0.425},{"k":"500","s":"d","q":42,"v":0.4},{"k":"500","s":"d","q":44,"v":0.385},{"k":"500","s":"d","q":46,"v":0.37},{"k":"500","s":"d","q":48,"v":0.35},{"k":"500","s":"d","q":50,"v":0.325},{"k":"500","s":"d","q":52,"v":0.295},{"k":"500","s":"d","q":53,"v":0.27},{"k":"500","s":"d","q":54,"v":0.245},{"k":"500","s":"d","q":55,"v":0.22},{"k":"500","s":"d","q":55.5,"v":0.2},
{"k":"500","s":"c","q":0,"v":0.22},{"k":"500","s":"c","q":0,"v":0.85},{"k":"500","s":"c","q":0.3,"v":0.9},{"k":"500","s":"c","q":0.6,"v":0.93},{"k":"500","s":"c","q":1,"v":0.95},{"k":"500","s":"c","q":1.5,"v":0.97},{"k":"500","s":"c","q":2.2,"v":0.99},{"k":"500","s":"c","q":3,"v":1.01},{"k":"500","s":"c","q":4,"v":1.03},{"k":"500","s":"c","q":5,"v":1.04},{"k":"500","s":"c","q":7.5,"v":1.07},{"k":"500","s":"c","q":10,"v":1.09},{"k":"500","s":"c","q":12.5,"v":1.105},{"k":"500","s":"c","q":15,"v":1.12},{"k":"500","s":"c","q":17.5,"v":1.135},{"k":"500","s":"c","q":20,"v":1.15},{"k":"500","s":"c","q":24,"v":1.175},{"k":"500","s":"c","q":28,"v":1.2},{"k":"500","s":"c","q":30.5,"v":1.225},{"k":"500","s":"c","q":33,"v":1.25},{"k":"500","s":"c","q":35.5,"v":1.275},{"k":"500","s":"c","q":38,"v":1.3},{"k":"500","s":"c","q":40.5,"v":1.325},{"k":"500","s":"c","q":43,"v":1.35},{"k":"500","s":"c","q":45,"v":1.375},{"k":"500","s":"c","q":47,"v":1.4},{"k":"500","s":"c","q":48.7,"v":1.425},{"k":"500","s":"c","q":50,"v":1.45},{"k":"500","s":"c","q":51.2,"v":1.475},{"k":"500","s":"c","q":52.3,"v":1.5},{"k":"500","s":"c","q":53.4,"v":1.525},{"k":"500","s":"c","q":54.3,"v":1.55},{"k":"500","s":"c","q":55,"v":1.575},{"k":"500","s":"c","q":55.5,"v":1.6},
{"k":"1000","s":"d","q":0,"v":1.6},{"k":"1000","s":"d","q":0,"v":1.15},{"k":"1000","s":"d","q":0.3,"v":1.12},{"k":"1000","s":"d","q":0.6,"v":1.08},{"k":"1000","s":"d","q":1,"v":1.04},{"k":"1000","s":"d","q":1.5,"v":1.0},{"k":"1000","s":"d","q":2,"v":0.96},{"k":"1000","s":"d","q":3,"v":0.9},{"k":"1000","s":"d","q":4,"v":0.865},{"k":"1000","s":"d","q":5,"v":0.84},{"k":"1000","s":"d","q":6,"v":0.82},{"k":"1000","s":"d","q":6.8,"v":0.8},{"k":"1000","s":"d","q":8.3,"v":0.775},{"k":"1000","s":"d","q":10,"v":0.75},{"k":"1000","s":"d","q":11.5,"v":0.725},{"k":"1000","s":"d","q":12.9,"v":0.7},{"k":"1000","s":"d","q":14.5,"v":0.68},{"k":"1000","s":"d","q":16,"v":0.66},{"k":"1000","s":"d","q":18,"v":0.63},{"k":"1000","s":"d","q":20,"v":0.6},{"k":"1000","s":"d","q":21,"v":0.575},{"k":"1000","s":"d","q":22,"v":0.55},{"k":"1000","s":"d","q":23,"v":0.525},{"k":"1000","s":"d","q":24,"v":0.5},{"k":"1000","s":"d","q":25,"v":0.475},{"k":"1000","s":"d","q":26,"v":0.45},{"k":"1000","s":"d","q":27.5,"v":0.42},{"k":"1000","s":"d","q":28.5,"v":0.4},{"k":"1000","s":"d","q":30,"v":0.37},{"k":"1000","s":"d","q":31,"v":0.355},{"k":"1000","s":"d","q":32,"v":0.34},{"k":"1000","s":"d","q":33.5,"v":0.32},{"k":"1000","s":"d","q":35,"v":0.3},{"k":"1000","s":"d","q":36.5,"v":0.285},{"k":"1000","s":"d","q":38,"v":0.27},{"k":"1000","s":"d","q":39.5,"v":0.255},{"k":"1000","s":"d","q":41,"v":0.24},{"k":"1000","s":"d","q":42.5,"v":0.22},{"k":"1000","s":"d","q":44,"v":0.2},
{"k":"1000","s":"c","q":0,"v":0.2},{"k":"1000","s":"c","q":0,"v":0.95},{"k":"1000","s":"c","q":0.3,"v":0.98},{"k":"1000","s":"c","q":0.6,"v":1.0},{"k":"1000","s":"c","q":1,"v":1.03},{"k":"1000","s":"c","q":1.5,"v":1.05},{"k":"1000","s":"c","q":2.2,"v":1.07},{"k":"1000","s":"c","q":3,"v":1.09},{"k":"1000","s":"c","q":4.5,"v":1.105},{"k":"1000","s":"c","q":6,"v":1.12},{"k":"1000","s":"c","q":8,"v":1.13},{"k":"1000","s":"c","q":10,"v":1.14},{"k":"1000","s":"c","q":12.5,"v":1.15},{"k":"1000","s":"c","q":15,"v":1.16},{"k":"1000","s":"c","q":17.5,"v":1.175},{"k":"1000","s":"c","q":20,"v":1.19},{"k":"1000","s":"c","q":22.5,"v":1.21},{"k":"1000","s":"c","q":25,"v":1.23},{"k":"1000","s":"c","q":27.5,"v":1.26},{"k":"1000","s":"c","q":30,"v":1.29},{"k":"1000","s":"c","q":31.5,"v":1.31},{"k":"1000","s":"c","q":33,"v":1.33},{"k":"1000","s":"c","q":34,"v":1.35},{"k":"1000","s":"c","q":35,"v":1.37},{"k":"1000","s":"c","q":36.5,"v":1.4},{"k":"1000","s":"c","q":38,"v":1.44},{"k":"1000","s":"c","q":39.5,"v":1.475},{"k":"1000","s":"c","q":41,"v":1.51},{"k":"1000","s":"c","q":42.5,"v":1.55},{"k":"1000","s":"c","q":43.3,"v":1.575},{"k":"1000","s":"c","q":44,"v":1.6}
 ],
 "dcap": [
{"n":1,"c":218,"d":240,"e":91},{"n":2,"c":153,"d":160,"e":96.7},{"n":3,"c":149,"d":149,"e":99},{"n":4,"c":149,"d":149,"e":100},{"n":5,"c":152,"d":151,"e":100.5},{"n":6,"c":157,"d":156,"e":100.5},{"n":7,"c":163,"d":163,"e":100.5},{"n":8,"c":170,"d":169,"e":100.5},{"n":9,"c":177,"d":176,"e":100},{"n":10,"c":183,"d":183,"e":99.5},
{"n":11,"c":155,"d":162,"e":96},{"n":12,"c":158,"d":161,"e":98.5},{"n":13,"c":160,"d":161,"e":99.5},{"n":14,"c":161,"d":162,"e":100},{"n":15,"c":163,"d":163,"e":100},{"n":16,"c":164,"d":164,"e":100.5},{"n":17,"c":165,"d":165,"e":100.5},{"n":18,"c":166,"d":166,"e":100.5},{"n":19,"c":168,"d":167,"e":100.5},{"n":20,"c":170,"d":168,"e":100.5},
{"n":21,"c":153,"d":156,"e":98},{"n":22,"c":155,"d":155,"e":100},{"n":23,"c":155.5,"d":155.5,"e":100},{"n":24,"c":156,"d":156,"e":100},{"n":25,"c":156,"d":156,"e":100},{"n":26,"c":156,"d":156,"e":100},{"n":27,"c":156.5,"d":156.5,"e":100},{"n":28,"c":156.5,"d":156.5,"e":100},{"n":29,"c":156.5,"d":156.5,"e":100},{"n":30,"c":156.5,"d":156.5,"e":100},
{"n":31,"c":130,"d":134,"e":96.5},{"n":32,"c":133,"d":133,"e":100},{"n":33,"c":133,"d":133,"e":100},{"n":34,"c":133,"d":133,"e":100},{"n":35,"c":133,"d":133,"e":100},{"n":36,"c":133,"d":133,"e":100},{"n":37,"c":133,"d":133,"e":100},{"n":38,"c":133,"d":133,"e":100},{"n":39,"c":133,"d":133,"e":100},{"n":40,"c":133,"d":133,"e":100},
{"n":41,"c":101,"d":109,"e":93},{"n":42,"c":103,"d":105,"e":100},{"n":43,"c":104,"d":104,"e":100},{"n":44,"c":104,"d":104,"e":100},{"n":45,"c":104,"d":104,"e":100},{"n":46,"c":104,"d":104,"e":100},{"n":47,"c":104,"d":104,"e":100},{"n":48,"c":104,"d":104,"e":100},{"n":49,"c":104,"d":104,"e":100},{"n":50,"c":104,"d":104,"e":100},
{"n":51,"c":59,"d":70,"e":85},{"n":52,"c":61,"d":62,"e":97.5},{"n":53,"c":60,"d":60,"e":99},{"n":54,"c":59.5,"d":59.5,"e":99.5},{"n":55,"c":59.5,"d":59.5,"e":99},{"n":56,"c":59.5,"d":59.5,"e":99.5},{"n":57,"c":59.5,"d":59.5,"e":99.5},{"n":58,"c":59.5,"d":59.5,"e":99},{"n":59,"c":59.5,"d":59.5,"e":99.5},{"n":60,"c":59.5,"d":59.5,"e":100},
{"n":61,"c":185,"d":152,"e":130},{"n":62,"c":183,"d":180,"e":101},{"n":63,"c":182,"d":179,"e":101},{"n":64,"c":181,"d":178,"e":101},{"n":65,"c":180,"d":177,"e":101},{"n":66,"c":179,"d":176,"e":101},{"n":67,"c":178,"d":175,"e":101},{"n":68,"c":177,"d":174,"e":101},{"n":69,"c":176,"d":173,"e":101},{"n":70,"c":175,"d":172,"e":101}
 ],
 "ecap": [
{"n":1,"c":122,"d":126,"e":75},{"n":2,"c":124,"d":128,"e":85},{"n":3,"c":127,"d":130,"e":97},{"n":4,"c":130,"d":133,"e":104},{"n":5,"c":133,"d":135,"e":103},{"n":6,"c":136,"d":137,"e":101},{"n":7,"c":139,"d":140,"e":100},{"n":8,"c":141,"d":142,"e":100},{"n":9,"c":143,"d":143,"e":100},{"n":10,"c":145,"d":145,"e":100},
{"n":11,"c":144,"d":143,"e":100},{"n":12,"c":142,"d":141,"e":99},{"n":13,"c":140,"d":139,"e":98},{"n":14,"c":138,"d":137,"e":99},{"n":15,"c":136,"d":133,"e":97},{"n":16,"c":134,"d":140,"e":94},{"n":17,"c":90,"d":92,"e":96},{"n":18,"c":72,"d":74,"e":99},{"n":19,"c":71,"d":72,"e":100},{"n":20,"c":71,"d":71.5,"e":100},
{"n":40,"c":70,"d":70.3,"e":100},{"n":60,"c":68.3,"d":68.6,"e":100.2},{"n":80,"c":66.3,"d":66.6,"e":99.8},{"n":100,"c":64.3,"d":64.6,"e":100},{"n":120,"c":63.3,"d":63.6,"e":100.3},{"n":140,"c":62.4,"d":62.7,"e":99.8},{"n":160,"c":61.8,"d":62.1,"e":100},{"n":180,"c":61.4,"d":61.7,"e":100.2},{"n":200,"c":61.3,"d":61.6,"e":99.8},{"n":220,"c":61.8,"d":62.1,"e":100.3},
{"n":240,"c":61.8,"d":62.1,"e":100},{"n":260,"c":61.3,"d":61.6,"e":99.7},{"n":280,"c":60.8,"d":61.1,"e":100.2},{"n":300,"c":60.3,"d":60.6,"e":100},{"n":320,"c":59.8,"d":60.1,"e":99.8},{"n":340,"c":59.3,"d":59.6,"e":100.3},{"n":360,"c":58.8,"d":59.1,"e":100},{"n":380,"c":58.3,"d":58.6,"e":99.8},{"n":400,"c":57.8,"d":58.1,"e":100.2},{"n":420,"c":57.3,"d":57.6,"e":100},
{"n":440,"c":56.8,"d":57.1,"e":99.7},{"n":460,"c":56.3,"d":56.6,"e":100.3},{"n":480,"c":55.8,"d":56.1,"e":100},{"n":500,"c":55.3,"d":55.6,"e":99.8},{"n":520,"c":54.8,"d":55.1,"e":100.2},{"n":540,"c":54.3,"d":54.6,"e":100},{"n":560,"c":53.8,"d":54.1,"e":99.8},{"n":580,"c":52.9,"d":53.2,"e":100.3},{"n":600,"c":52.4,"d":52.7,"e":100},{"n":620,"c":51.9,"d":52.2,"e":99.8},
{"n":640,"c":51.4,"d":51.7,"e":100.2},{"n":660,"c":50.9,"d":51.2,"e":100},{"n":680,"c":50.9,"d":51.2,"e":99.7},{"n":700,"c":50.4,"d":50.7,"e":100.2},{"n":720,"c":49.9,"d":50.2,"e":100},{"n":740,"c":49.4,"d":49.7,"e":99.8},{"n":760,"c":48.9,"d":49.2,"e":100.3},{"n":780,"c":48.4,"d":48.7,"e":100},{"n":800,"c":48.4,"d":48.7,"e":99.8},{"n":820,"c":47.9,"d":48.2,"e":100.2},
{"n":840,"c":47.4,"d":47.7,"e":100},{"n":860,"c":46.9,"d":47.2,"e":99.7},{"n":880,"c":46.4,"d":46.7,"e":100.2},{"n":900,"c":45.9,"d":46.2,"e":100},{"n":920,"c":45.4,"d":45.7,"e":99.8},{"n":940,"c":44.9,"d":45.2,"e":100.3},{"n":960,"c":44.4,"d":44.7,"e":100},{"n":980,"c":43.9,"d":44.2,"e":99.8},{"n":1000,"c":43.4,"d":43.7,"e":100}
 ]
},
"vconcat": [
 {
  "hconcat": [
   {"width": 1, "height": 1, "data": {"values": []}, "mark": "point", "view": {"stroke": null}},
   {
    "width": 318, "height": 232,
    "resolve": {"axis": {"x": "independent", "y": "independent"}},
    "layer": [
     {
      "data": {"name": "cv"},
      "mark": {"type": "line", "strokeWidth": 1.8},
      "encoding": {
       "x": {"field": "p", "type": "quantitative", "scale": {"domain": [0.14, 1.633], "nice": false, "zero": false},
             "axis": {"orient": "bottom", "values": [0.2,0.4,0.6,0.8,1.0,1.2,1.4,1.6], "format": ".1f", "title": "Potential (V)", "tickSize": 5, "labelPadding": 3, "titleX": 161.5, "titleY": 38, "titleBaseline": "middle", "minExtent": 51}},
       "y": {"field": "c", "type": "quantitative", "scale": {"domain": [-1.236, 1.5], "nice": false, "zero": false},
             "axis": {"orient": "left", "values": [-1,-0.5,0,0.5,1,1.5], "format": ".1f", "title": "Current (mA)", "tickSize": 4, "labelPadding": 2, "titleX": -45.5, "titleY": 122, "titleBaseline": "middle", "minExtent": 51}},
       "color": {"field": "k", "type": "nominal",
                 "scale": {"domain": ["1","2","3","4","5"], "range": ["#f542c8","#2f9e33","#ff3d8b","#993366","#22618c"]},
                 "legend": {"title": null, "orient": "none", "legendX": 14.6, "legendY": 34, "padding": 0, "symbolType": "M-2.1,0H2.1", "symbolSize": 144, "symbolStrokeWidth": 3, "labelFontSize": 13, "labelFontWeight": "bold", "labelOffset": 15, "rowPadding": 2,
                            "labelExpr": "datum.label=='1'?'1ˢᵗ Cycle':datum.label=='2'?'2ⁿᵈ Cycle':datum.label=='3'?'3ʳᵈ Cycle':datum.label+'ᵗʰ Cycle'"}},
       "order": {"value": null}
      }
     },
     {
      "data": {"values": [{"x":1.28,"y":1.24,"t":"1.35 V"},{"x":1.06,"y":0.72,"t":"1.08 V"},{"x":0.49,"y":-0.67,"t":"0.57 V"},{"x":0.815,"y":-1.12,"t":"0.9 V"},{"x":1.078,"y":-0.59,"t":"1.1 V"}]},
      "mark": {"type": "text", "fontSize": 13, "fontWeight": "bold", "color": "#111111"},
      "encoding": {
       "x": {"field": "x", "type": "quantitative", "scale": {"domain": [0.14, 1.633], "nice": false, "zero": false},
             "axis": {"orient": "bottom", "values": [0.3,0.5,0.7,0.9,1.1,1.3,1.5], "labels": false, "domain": false, "title": null, "tickSize": 3}},
       "y": {"field": "y", "type": "quantitative", "scale": {"domain": [-1.236, 1.5], "nice": false, "zero": false},
             "axis": {"orient": "left", "values": [-0.75,-0.25,0.25,0.75,1.25], "labels": false, "domain": false, "title": null, "tickSize": 3}},
       "text": {"field": "t"}
      }
     },
     {
      "data": {"values": [{"x":1.275,"y":-1.01,"t":"Scan rate: 0.2 mV s⁻¹"}]},
      "mark": {"type": "text", "fontSize": 12, "color": "#2b2b66"},
      "encoding": {
       "x": {"field": "x", "type": "quantitative", "scale": {"domain": [0.14, 1.633], "nice": false, "zero": false}, "axis": null},
       "y": {"field": "y", "type": "quantitative", "scale": {"domain": [-1.236, 1.5], "nice": false, "zero": false}, "axis": null},
       "text": {"field": "t"}
      }
     },
     {
      "data": {"values": [{"x":0.275,"y":1.3,"t":"(a)"}]},
      "mark": {"type": "text", "fontSize": 12, "fontWeight": "bold", "font": "Liberation Serif", "color": "#222222"},
      "encoding": {
       "x": {"field": "x", "type": "quantitative", "scale": {"domain": [0.14, 1.633], "nice": false, "zero": false}, "axis": null},
       "y": {"field": "y", "type": "quantitative", "scale": {"domain": [-1.236, 1.5], "nice": false, "zero": false}, "axis": null},
       "text": {"field": "t"}
      }
     }
    ]
   },
   {
    "width": 290, "height": 232,
    "resolve": {"axis": {"x": "independent", "y": "independent"}},
    "layer": [
     {
      "data": {"name": "gcd"},
      "mark": {"type": "line", "strokeWidth": 1.8},
      "encoding": {
       "x": {"field": "q", "type": "quantitative", "scale": {"domain": [-4.7, 189.4], "nice": false, "zero": false},
             "axis": {"orient": "bottom", "values": [0,20,40,60,80,100,120,140,160,180], "title": "Specific Capacity (mAh g⁻¹)", "tickSize": 5, "labelPadding": 9, "titleX": 146, "titleY": 44.5, "titleBaseline": "middle", "minExtent": 51}},
       "y": {"field": "v", "type": "quantitative", "scale": {"domain": [0.11, 1.71], "nice": false, "zero": false},
             "axis": {"orient": "left", "values": [0.2,0.4,0.6,0.8,1.0,1.2,1.4,1.6], "format": ".1f", "title": "Potential (V)", "tickSize": 5, "labelPadding": 8, "titleX": -45, "titleY": 127, "titleBaseline": "middle", "minExtent": 79}},
       "color": {"field": "k", "type": "nominal",
                 "scale": {"domain": ["1","2","3","4","5","10"], "range": ["#1a1a1a","#2d7b80","#2b9a3c","#c27be0","#d9a11a","#38d0d0"]},
                 "legend": {"title": null, "orient": "none", "legendX": 206, "legendY": 64, "padding": 0, "symbolType": "M-2.6,0H2.6M-0.7,0A0.7,0.7 0 1,0 0.7,0A0.7,0.7 0 1,0 -0.7,0Z", "symbolSize": 100, "symbolStrokeWidth": 1.6, "labelFontSize": 13, "labelFontWeight": "bold", "labelOffset": 10, "rowPadding": 3,
                            "labelExpr": "datum.label=='1'?'1ˢᵗ Cycle':datum.label=='2'?'2ⁿᵈ Cycle':datum.label=='3'?'3ʳᵈ Cycle':datum.label+'ᵗʰ Cycle'",
                            "encode": {"symbols": {"update": {"fill": {"signal": "datum.value=='1'?'#1a1a1a':datum.value=='2'?'#2d7b80':datum.value=='3'?'#2b9a3c':datum.value=='4'?'#c27be0':datum.value=='5'?'#d9a11a':'#38d0d0'"}}}}}},
       "detail": {"field": "s"},
       "order": {"value": null}
      }
     },
     {
      "data": {"name": "gcd"},
      "mark": {"type": "point", "filled": true, "size": 14, "opacity": 1},
      "encoding": {
       "x": {"field": "q", "type": "quantitative", "scale": {"domain": [-4.7, 189.4], "nice": false, "zero": false},
             "axis": {"orient": "bottom", "values": [10,30,50,70,90,110,130,150,170], "labels": false, "domain": false, "title": null, "tickSize": 3}},
       "y": {"field": "v", "type": "quantitative", "scale": {"domain": [0.11, 1.71], "nice": false, "zero": false},
             "axis": {"orient": "left", "values": [0.3,0.5,0.7,0.9,1.1,1.3,1.5], "labels": false, "domain": false, "title": null, "tickSize": 3}},
       "color": {"field": "k", "type": "nominal", "scale": {"domain": ["1","2","3","4","5","10"], "range": ["#1a1a1a","#2d7b80","#2b9a3c","#c27be0","#d9a11a","#38d0d0"]}, "legend": null}
      }
     },
     {
      "data": {"values": [{"x":67.6,"y":0.365,"t":"0.5 A g⁻¹"}]},
      "mark": {"type": "text", "fontSize": 13, "fontWeight": "bold", "color": "#222222"},
      "encoding": {
       "x": {"field": "x", "type": "quantitative", "scale": {"domain": [-4.7, 189.4], "nice": false, "zero": false}, "axis": null},
       "y": {"field": "y", "type": "quantitative", "scale": {"domain": [0.11, 1.71], "nice": false, "zero": false}, "axis": null},
       "text": {"field": "t"}
      }
     },
     {
      "data": {"values": [{"x":11.4,"y":1.53,"t":"(b)"}]},
      "mark": {"type": "text", "fontSize": 12, "fontWeight": "bold", "font": "Liberation Serif", "color": "#222222"},
      "encoding": {
       "x": {"field": "x", "type": "quantitative", "scale": {"domain": [-4.7, 189.4], "nice": false, "zero": false}, "axis": null},
       "y": {"field": "y", "type": "quantitative", "scale": {"domain": [0.11, 1.71], "nice": false, "zero": false}, "axis": null},
       "text": {"field": "t"}
      }
     }
    ]
   }
  ],
  "spacing": 0,
  "resolve": {"scale": {"color": "independent"}, "legend": {"color": "independent"}}
 },
 {
  "hconcat": [
   {"width": 1, "height": 1, "data": {"values": []}, "mark": "point", "view": {"stroke": null}},
   {
    "width": 293, "height": 232,
    "resolve": {"axis": {"x": "independent", "y": "independent"}},
    "layer": [
     {
      "data": {"name": "rate"},
      "mark": {"type": "line", "strokeWidth": 1.2},
      "encoding": {
       "x": {"field": "q", "type": "quantitative", "scale": {"domain": [-1.3, 75.5], "nice": false, "zero": false},
             "axis": {"orient": "bottom", "values": [0,10,20,30,40,50,60,70], "title": "Specific Capacity (mAh g⁻¹)", "tickSize": 5, "labelPadding": 7, "titleX": 146, "titleY": 41, "titleBaseline": "middle", "minExtent": 69}},
       "y": {"field": "v", "type": "quantitative", "scale": {"domain": [0.11, 1.71], "nice": false, "zero": false},
             "axis": {"orient": "left", "values": [0.2,0.4,0.6,0.8,1.0,1.2,1.4,1.6], "format": ".1f", "title": "Potential (V)", "tickSize": 5, "labelPadding": 3, "titleX": -44, "titleY": 125, "titleBaseline": "middle", "minExtent": 67}},
       "color": {"field": "k", "type": "nominal",
                 "scale": {"domain": ["30","60","100","500","1000"], "range": ["#a030b8","#2030d0","#ff3399","#ff9025","#111111"]},
                 "legend": {"title": null, "orient": "none", "legendX": 212, "legendY": 72, "padding": 0, "symbolType": "M-2.5,0H2.5M-0.6,0A0.6,0.6 0 1,0 0.6,0A0.6,0.6 0 1,0 -0.6,0Z", "symbolSize": 64, "symbolStrokeWidth": 1.3, "labelFontSize": 11, "labelOffset": 5, "rowPadding": 1,
                            "labelExpr": "datum.label+'ᵗʰ Cycle'",
                            "encode": {"symbols": {"update": {"fill": {"value": "#ffffff"}}},
                                       "labels": {"update": {"fill": {"signal": "datum.value=='30'?'#a030b8':datum.value=='60'?'#2030d0':datum.value=='100'?'#ff3399':datum.value=='500'?'#ff9025':'#111111'"}}}}}},
       "detail": {"field": "s"},
       "order": {"value": null}
      }
     },
     {
      "data": {"name": "rate"},
      "mark": {"type": "point", "filled": false, "size": 16, "strokeWidth": 1.2, "opacity": 1},
      "encoding": {
       "x": {"field": "q", "type": "quantitative", "scale": {"domain": [-1.3, 75.5], "nice": false, "zero": false},
             "axis": {"orient": "bottom", "values": [5,15,25,35,45,55,65,75], "labels": false, "domain": false, "title": null, "tickSize": 3}},
       "y": {"field": "v", "type": "quantitative", "scale": {"domain": [0.11, 1.71], "nice": false, "zero": false},
             "axis": {"orient": "left", "values": [0.3,0.5,0.7,0.9,1.1,1.3,1.5], "labels": false, "domain": false, "title": null, "tickSize": 3}},
       "color": {"field": "k", "type": "nominal", "scale": {"domain": ["30","60","100","500","1000"], "range": ["#a030b8","#2030d0","#ff3399","#ff9025","#111111"]}, "legend": null}
      }
     },
     {
      "data": {"values": [{"x":11.8,"y":0.234,"t":"5 A g⁻¹"}]},
      "mark": {"type": "text", "fontSize": 13, "fontWeight": "bold", "color": "#222222"},
      "encoding": {
       "x": {"field": "x", "type": "quantitative", "scale": {"domain": [-1.3, 75.5], "nice": false, "zero": false}, "axis": null},
       "y": {"field": "y", "type": "quantitative", "scale": {"domain": [0.11, 1.71], "nice": false, "zero": false}, "axis": null},
       "text": {"field": "t"}
      }
     },
     {
      "data": {"values": [{"x":8.7,"y":1.497,"t":"(c)"}]},
      "mark": {"type": "text", "fontSize": 12, "fontWeight": "bold", "font": "Liberation Serif", "color": "#222222"},
      "encoding": {
       "x": {"field": "x", "type": "quantitative", "scale": {"domain": [-1.3, 75.5], "nice": false, "zero": false}, "axis": null},
       "y": {"field": "y", "type": "quantitative", "scale": {"domain": [0.11, 1.71], "nice": false, "zero": false}, "axis": null},
       "text": {"field": "t"}
      }
     }
    ]
   },
   {
    "width": 291, "height": 232,
    "resolve": {"scale": {"y": "independent"}, "axis": {"x": "independent", "y": "independent"}},
    "layer": [
     {
      "data": {"values": [{"n":10},{"n":20},{"n":30},{"n":40},{"n":50},{"n":60}]},
      "mark": {"type": "rule", "color": "#1f9d84", "strokeDash": [2,3], "strokeWidth": 1.3},
      "encoding": {
       "x": {"field": "n", "type": "quantitative", "scale": {"domain": [0, 70], "nice": false, "zero": false}, "axis": null}
      }
     },
     {
      "data": {"name": "dcap"},
      "transform": [{"fold": ["c", "d"], "as": ["s", "y"]}],
      "mark": {"type": "line", "strokeWidth": 1.5},
      "encoding": {
       "x": {"field": "n", "type": "quantitative", "scale": {"domain": [0, 70], "nice": false, "zero": false},
             "axis": {"orient": "bottom", "values": [0,10,20,30,40,50,60,70], "title": "Cycle Number", "tickSize": 5, "labelPadding": 7, "titleX": 145.5, "titleY": 42.7, "titleBaseline": "middle", "minExtent": 69}},
       "y": {"field": "y", "type": "quantitative", "scale": {"domain": [0, 276], "nice": false, "zero": false},
             "axis": {"orient": "left", "values": [0,50,100,150,200,250], "title": "Specific Capacity (mAh g⁻¹)", "tickSize": 5, "labelPadding": 3, "titleX": -49, "titleY": 121, "titleBaseline": "middle", "minExtent": 86}},
       "color": {"field": "s", "type": "nominal",
                 "scale": {"domain": ["c","d"], "range": ["#1a237e","#ff3399"]},
                 "legend": {"title": null, "orient": "none", "legendX": 25, "legendY": 191.5, "padding": 0, "symbolType": "M-1.8,0H1.8M-0.6,0A0.6,0.6 0 1,0 0.6,0A0.6,0.6 0 1,0 -0.6,0Z", "symbolSize": 100, "symbolStrokeWidth": 1.6, "labelFontSize": 13, "labelOffset": 8, "rowPadding": 2,
                            "labelExpr": "datum.label=='c'?'Charge Capacity':'Discharge Capacity'",
                            "encode": {"symbols": {"update": {"fill": {"signal": "datum.value=='c'?'#1a237e':'#ffc2e0'"}}}}}}
      }
     },
     {
      "data": {"name": "dcap"},
      "transform": [{"fold": ["c", "d"], "as": ["s", "y"]}],
      "mark": {"type": "point", "filled": false, "size": 26, "strokeWidth": 1.7, "opacity": 1},
      "encoding": {
       "x": {"field": "n", "type": "quantitative", "scale": {"domain": [0, 70], "nice": false, "zero": false},
             "axis": {"orient": "bottom", "values": [5,15,25,35,45,55,65], "labels": false, "domain": false, "title": null, "tickSize": 3}},
       "y": {"field": "y", "type": "quantitative", "scale": {"domain": [0, 276], "nice": false, "zero": false},
             "axis": {"orient": "left", "values": [25,75,125,175,225,275], "labels": false, "domain": false, "title": null, "tickSize": 3}},
       "color": {"field": "s", "type": "nominal", "scale": {"domain": ["c","d"], "range": ["#1a237e","#ff3399"]}, "legend": null}
      }
     },
     {
      "data": {"name": "dcap"},
      "mark": {"type": "line", "color": "#333333", "strokeWidth": 1, "clip": true},
      "encoding": {
       "x": {"field": "n", "type": "quantitative", "scale": {"domain": [0, 70], "nice": false, "zero": false}, "axis": null},
       "y": {"field": "e", "type": "quantitative", "scale": {"domain": [0, 110.5], "nice": false, "zero": false},
             "axis": {"orient": "right", "values": [0,20,40,60,80,100], "title": "Coulombic Efficiency (%)", "tickSize": 4, "labelPadding": 2, "titleAngle": 270, "titleX": 43, "titleY": 118, "titleBaseline": "middle"}}
      }
     },
     {
      "data": {"name": "dcap"},
      "mark": {"type": "point", "filled": true, "color": "#33a33a", "stroke": "#1b5e20", "strokeWidth": 0.6, "size": 30, "opacity": 1, "clip": true},
      "encoding": {
       "x": {"field": "n", "type": "quantitative", "scale": {"domain": [0, 70], "nice": false, "zero": false}, "axis": null},
       "y": {"field": "e", "type": "quantitative", "scale": {"domain": [0, 110.5], "nice": false, "zero": false},
             "axis": {"orient": "right", "values": [10,30,50,70,90,110], "labels": false, "domain": false, "title": null, "tickSize": 3}}
      }
     },
     {
      "data": {"values": [{"x":5.2,"y":198,"t":"0.5"},{"x":14.7,"y":189,"t":"1"},{"x":24.9,"y":174,"t":"2"},{"x":35.2,"y":151.5,"t":"5"},{"x":44.8,"y":126,"t":"10"},{"x":55.5,"y":81,"t":"20"},{"x":66.5,"y":198,"t":"0.5"}]},
      "mark": {"type": "text", "fontSize": 14, "fontWeight": "bold", "color": "#222222"},
      "encoding": {
       "x": {"field": "x", "type": "quantitative", "scale": {"domain": [0, 70], "nice": false, "zero": false}, "axis": null},
       "y": {"field": "y", "type": "quantitative", "scale": {"domain": [0, 276], "nice": false, "zero": false}, "axis": null},
       "text": {"field": "t"}
      }
     },
     {
      "data": {"values": [{"x":6.35,"y":228,"t":"(d)"}]},
      "mark": {"type": "text", "fontSize": 12, "fontWeight": "bold", "font": "Liberation Serif", "color": "#222222"},
      "encoding": {
       "x": {"field": "x", "type": "quantitative", "scale": {"domain": [0, 70], "nice": false, "zero": false}, "axis": null},
       "y": {"field": "y", "type": "quantitative", "scale": {"domain": [0, 276], "nice": false, "zero": false}, "axis": null},
       "text": {"field": "t"}
      }
     },
     {
      "data": {"values": [{"x":52.6,"y":32.5,"t":"Unit: A g⁻¹"}]},
      "mark": {"type": "text", "fontSize": 13, "align": "left", "color": "#222222"},
      "encoding": {
       "x": {"field": "x", "type": "quantitative", "scale": {"domain": [0, 70], "nice": false, "zero": false}, "axis": null},
       "y": {"field": "y", "type": "quantitative", "scale": {"domain": [0, 276], "nice": false, "zero": false}, "axis": null},
       "text": {"field": "t"}
      }
     }
    ]
   }
  ],
  "spacing": 0,
  "resolve": {"scale": {"color": "independent"}, "legend": {"color": "independent"}}
 },
 {
  "hconcat": [
   {"width": 1, "height": 1, "data": {"values": []}, "mark": "point", "view": {"stroke": null}},
   {
    "width": 436, "height": 232,
    "resolve": {"scale": {"y": "independent"}, "axis": {"x": "independent", "y": "independent"}},
    "layer": [
     {
      "data": {"values": [{"n":17}]},
      "mark": {"type": "rule", "color": "#111111", "strokeDash": [6,4], "strokeWidth": 1.3},
      "encoding": {
       "x": {"field": "n", "type": "quantitative", "scale": {"domain": [0, 1000], "nice": false, "zero": false}, "axis": null}
      }
     },
     {
      "data": {"name": "ecap"},
      "transform": [{"fold": ["c", "d"], "as": ["s", "y"]}],
      "mark": {"type": "line", "strokeWidth": 4},
      "encoding": {
       "x": {"field": "n", "type": "quantitative", "scale": {"domain": [0, 1000], "nice": false, "zero": false},
             "axis": {"orient": "bottom", "values": [0,100,200,300,400,500,600,700,800,900,1000], "format": "d", "title": "Cycle Number", "tickSize": 5, "labelPadding": 8, "titleX": 218, "titleY": 41, "titleBaseline": "middle"}},
       "y": {"field": "y", "type": "quantitative", "scale": {"domain": [0, 190], "nice": false, "zero": false},
             "axis": {"orient": "left", "values": [0,30,60,90,120,150,180], "title": "Specific Capacity (mAh g⁻¹)", "tickSize": 6, "labelPadding": 8, "titleX": -47, "titleY": 113.5, "titleBaseline": "middle", "minExtent": 187}},
       "color": {"field": "s", "type": "nominal",
                 "scale": {"domain": ["c","d"], "range": ["#2ca02c","#9e2a6b"]},
                 "legend": {"title": null, "orient": "none", "legendX": 204.5, "legendY": 94.5, "padding": 0, "symbolType": "M-1.3,0H1.3M-0.6,0A0.6,0.6 0 1,0 0.6,0A0.6,0.6 0 1,0 -0.6,0Z", "symbolSize": 100, "symbolStrokeWidth": 1.6, "labelFontSize": 13, "labelOffset": 9.5, "rowPadding": 3,
                            "labelExpr": "datum.label=='c'?'Charge Capacity':'Discharge Capacity'",
                            "encode": {"symbols": {"update": {"fill": {"signal": "datum.value=='c'?'#2ca02c':'#d4559a'"}}}}}}
      }
     },
     {
      "data": {"name": "ecap"},
      "transform": [{"fold": ["c", "d"], "as": ["s", "y"]}],
      "mark": {"type": "point", "filled": false, "size": 20, "strokeWidth": 1.8, "opacity": 1},
      "encoding": {
       "x": {"field": "n", "type": "quantitative", "scale": {"domain": [0, 1000], "nice": false, "zero": false},
             "axis": {"orient": "bottom", "values": [50,150,250,350,450,550,650,750,850,950], "labels": false, "domain": false, "title": null, "tickSize": 3}},
       "y": {"field": "y", "type": "quantitative", "scale": {"domain": [0, 190], "nice": false, "zero": false},
             "axis": {"orient": "left", "values": [15,45,75,105,135,165], "labels": false, "domain": false, "title": null, "tickSize": 3}},
       "color": {"field": "s", "type": "nominal", "scale": {"domain": ["c","d"], "range": ["#2ca02c","#9e2a6b"]}, "legend": null}
      }
     },
     {
      "data": {"name": "ecap"},
      "mark": {"type": "line", "color": "#ff2d8e", "strokeWidth": 4},
      "encoding": {
       "x": {"field": "n", "type": "quantitative", "scale": {"domain": [0, 1000], "nice": false, "zero": false}, "axis": null},
       "y": {"field": "e", "type": "quantitative", "scale": {"domain": [0, 110], "nice": false, "zero": false},
             "axis": {"orient": "right", "values": [0,20,40,60,80,100], "title": "Coulombic Efficiency (%)", "tickSize": 6, "labelPadding": 7, "titleAngle": 270, "titleX": 43, "titleY": 115, "titleBaseline": "middle"}}
      }
     },
     {
      "data": {"name": "ecap"},
      "mark": {"type": "point", "filled": false, "color": "#ff2d8e", "size": 20, "strokeWidth": 1.8, "opacity": 1},
      "encoding": {
       "x": {"field": "n", "type": "quantitative", "scale": {"domain": [0, 1000], "nice": false, "zero": false}, "axis": null},
       "y": {"field": "e", "type": "quantitative", "scale": {"domain": [0, 110], "nice": false, "zero": false},
             "axis": {"orient": "right", "values": [10,30,50,70,90,110], "labels": false, "domain": false, "title": null, "tickSize": 3}}
      }
     },
     {
      "data": {"values": [{"x":17,"y":115},{"x":68,"y":115},{"x":68,"y":110}]},
      "mark": {"type": "line", "color": "#111111", "strokeWidth": 1.2},
      "encoding": {
       "x": {"field": "x", "type": "quantitative", "scale": {"domain": [0, 1000], "nice": false, "zero": false}, "axis": null},
       "y": {"field": "y", "type": "quantitative", "scale": {"domain": [0, 190], "nice": false, "zero": false}, "axis": null},
       "order": {"value": null}
      }
     },
     {
      "data": {"values": [{"x":68,"y":108.5}]},
      "mark": {"type": "point", "shape": "triangle-down", "filled": true, "color": "#111111", "size": 40, "opacity": 1},
      "encoding": {
       "x": {"field": "x", "type": "quantitative", "scale": {"domain": [0, 1000], "nice": false, "zero": false}, "axis": null},
       "y": {"field": "y", "type": "quantitative", "scale": {"domain": [0, 190], "nice": false, "zero": false}, "axis": null}
      }
     },
     {
      "data": {"values": [{"x":39,"y":99,"t":"0.5 A g⁻¹"},{"x":307,"y":82,"t":"5 A g⁻¹"}]},
      "mark": {"type": "text", "fontSize": 13, "fontWeight": "bold", "align": "left", "color": "#222222"},
      "encoding": {
       "x": {"field": "x", "type": "quantitative", "scale": {"domain": [0, 1000], "nice": false, "zero": false}, "axis": null},
       "y": {"field": "y", "type": "quantitative", "scale": {"domain": [0, 190], "nice": false, "zero": false}, "axis": null},
       "text": {"field": "t"}
      }
     },
     {
      "data": {"values": [{"x":110,"y":157,"t":"(e)"}]},
      "mark": {"type": "text", "fontSize": 12, "fontWeight": "bold", "font": "Liberation Serif", "color": "#222222"},
      "encoding": {
       "x": {"field": "x", "type": "quantitative", "scale": {"domain": [0, 1000], "nice": false, "zero": false}, "axis": null},
       "y": {"field": "y", "type": "quantitative", "scale": {"domain": [0, 190], "nice": false, "zero": false}, "axis": null},
       "text": {"field": "t"}
      }
     }
    ]
   }
  ],
  "spacing": 0,
  "resolve": {"scale": {"color": "independent"}, "legend": {"color": "independent"}}
 }
]
}
